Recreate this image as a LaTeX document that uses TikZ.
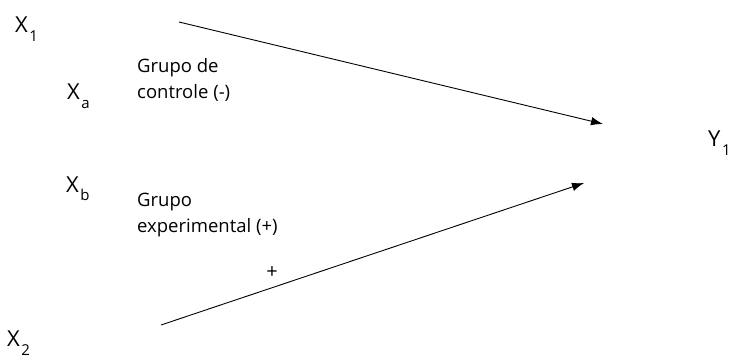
\documentclass[tikz,border=0pt]{standalone}
\usepackage{fontspec}
\setmainfont{Open Sans}
\usetikzlibrary{arrows.meta}
\newcommand{\lowsub}[1]{\hspace{1.5pt}\raisebox{-9pt}{\fontsize{15}{17}\selectfont #1}}
\begin{document}
\begin{tikzpicture}[x=1pt,y=-1pt,
  var/.style={inner sep=0pt,font=\fontsize{22}{24}\selectfont,anchor=base west},
  lab/.style={inner sep=0pt,font=\fontsize{18.5}{26}\selectfont,align=left,anchor=north west},
  conn/.style={line width=0.9pt,-{Latex[length=12pt,width=8.5pt]}}]
\useasboundingbox (0,0) rectangle (730,358);
\node[var] (x1) at (15,33) {X\lowsub{1}};
\node[var] (xa) at (67,100) {X\lowsub{a}};
\node[var] (xb) at (66,192) {X\lowsub{b}};
\node[var] (x2) at (7,346) {X\lowsub{2}};
\node[var] (y1) at (708,147) {Y\lowsub{1}};
\node[lab] (g1) at (137,58) {Grupo de\\controle (-)};
\node[lab] (g2) at (137,193) {Grupo\\experimental (+)};
\node[inner sep=0pt,font=\fontsize{20}{22}\selectfont] (plus) at (272,273) {+};
\coordinate (a1s) at (179,22);
\coordinate (a1e) at (603,124);
\coordinate (a2s) at (161,325);
\coordinate (a2e) at (584,183);
\draw[conn] (a1s) -- (a1e);
\draw[conn] (a2s) -- (a2e);
\end{tikzpicture}
\end{document}
